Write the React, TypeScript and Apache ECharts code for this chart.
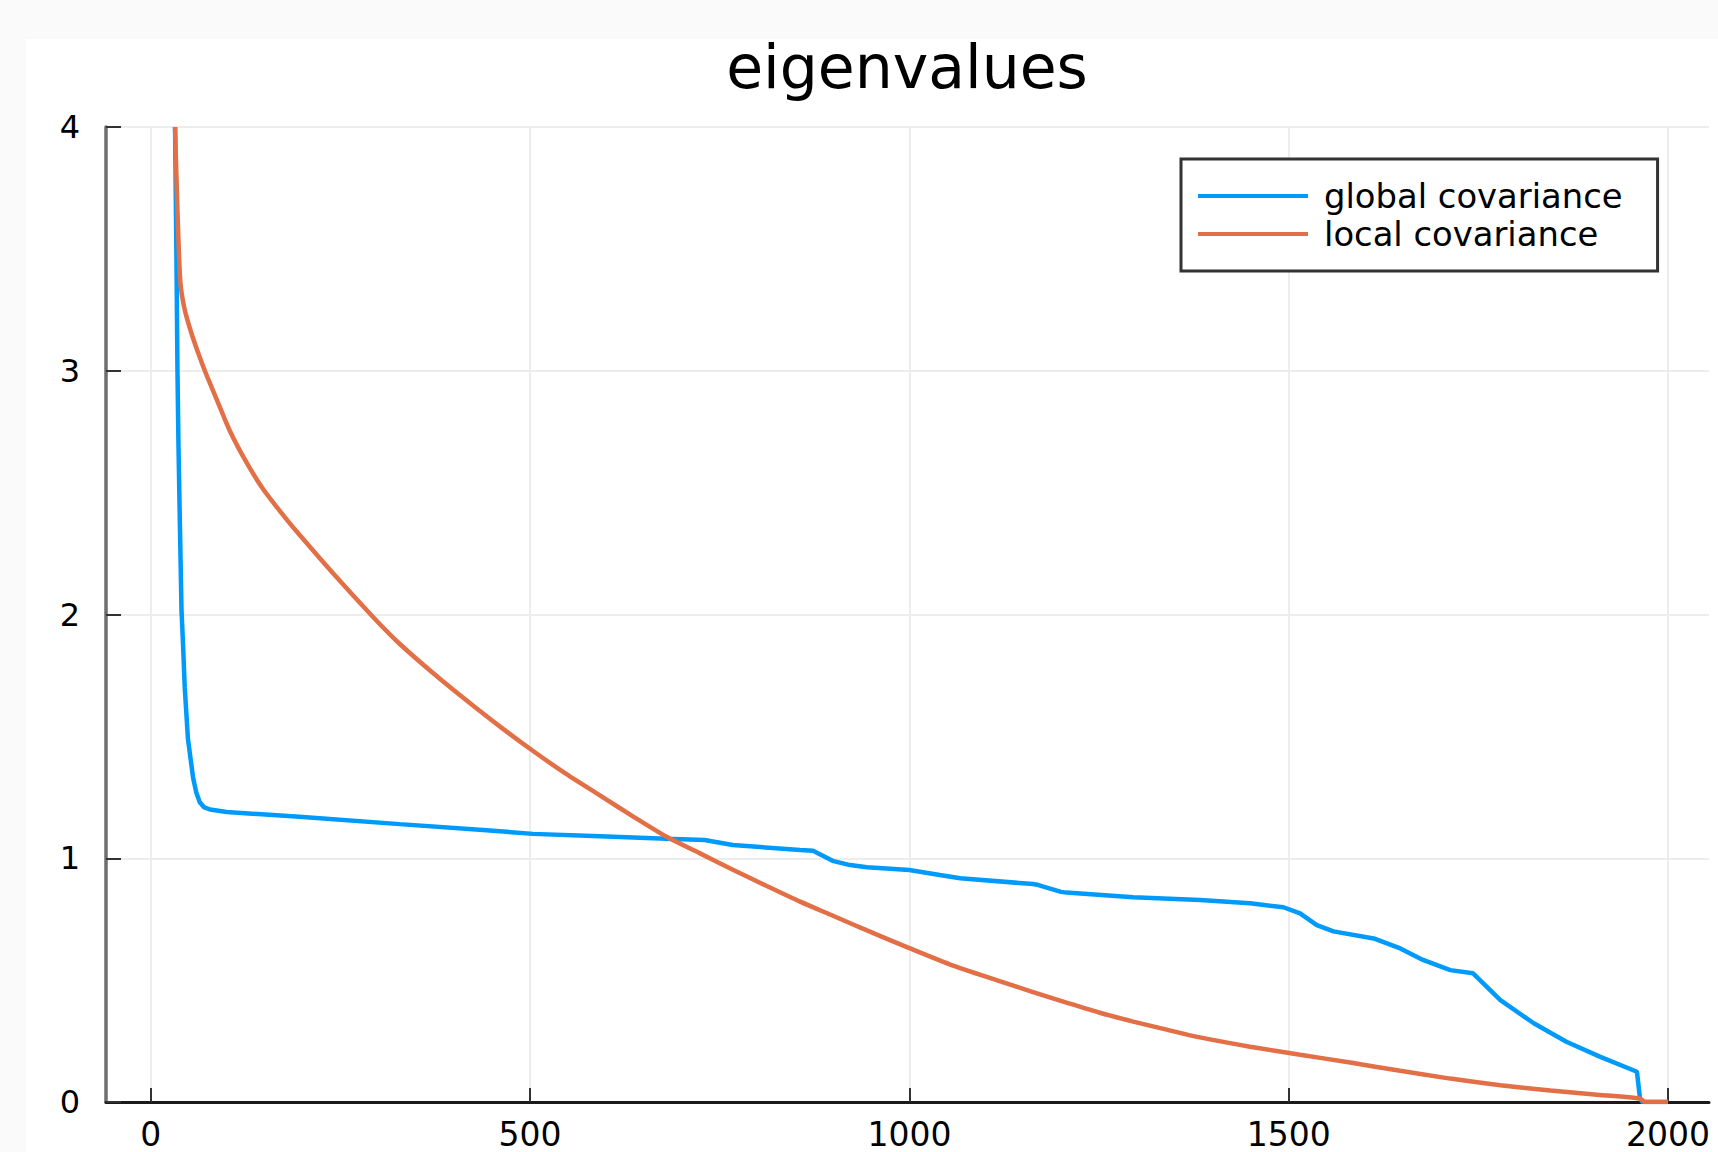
import React, { useEffect, useRef } from "react";
import * as echarts from "echarts";

const TITLE = "eigenvalues";
const SERIES_NAMES = ["global covariance", "local covariance"];
const SERIES_COLORS = ["#009AFA", "#E26F46"];
const X_TICKS = [0, 500, 1000, 1500, 2000];
const Y_TICKS = [0, 1, 2, 3, 4];

const globalX = [32, 33.8, 35.2, 36.5, 38, 40.5, 42.5, 44.8, 49, 55.8, 60, 64.6, 70, 78, 100, 196, 328, 438, 504, 592, 680, 730, 767, 856, 873, 900, 922, 944, 1000, 1040, 1067, 1163, 1170, 1200, 1207, 1295, 1383, 1449, 1493, 1515, 1537, 1559, 1612, 1647, 1677, 1713, 1743, 1779, 1823, 1866, 1910, 1959, 1963, 1966, 2000];
const globalY = [4.0, 3.48, 3.0, 2.7, 2.44, 2.02, 1.88, 1.7, 1.49, 1.33, 1.27, 1.23, 1.21, 1.2, 1.19, 1.17, 1.14, 1.116, 1.1, 1.09, 1.08, 1.075, 1.054, 1.034, 1.031, 0.988, 0.972, 0.963, 0.952, 0.931, 0.918, 0.894, 0.89, 0.862, 0.859, 0.84, 0.829, 0.815, 0.799, 0.774, 0.726, 0.7, 0.671, 0.63, 0.583, 0.541, 0.528, 0.418, 0.323, 0.247, 0.186, 0.124, 0.015, 0, 0];

const localX = [32, 34, 36, 39.1, 44.8, 53.6, 64.6, 72.5, 86.6, 104, 126, 148, 179, 196, 240, 293, 328, 372, 416, 460, 504, 548, 592, 636, 680, 724, 768, 812, 856, 900, 944, 1000, 1053, 1119, 1163, 1207, 1251, 1295, 1339, 1383, 1449, 1515, 1581, 1647, 1713, 1779, 1845, 1910, 1963, 1970, 2000];
const localY = [4.0, 3.78, 3.58, 3.36, 3.25, 3.154, 3.055, 2.99, 2.885, 2.755, 2.625, 2.515, 2.39, 2.327, 2.17, 1.99, 1.88, 1.76, 1.648, 1.541, 1.44, 1.345, 1.258, 1.171, 1.088, 1.02, 0.952, 0.886, 0.822, 0.763, 0.704, 0.631, 0.565, 0.496, 0.451, 0.408, 0.366, 0.33, 0.297, 0.265, 0.227, 0.194, 0.162, 0.128, 0.096, 0.069, 0.047, 0.029, 0.014, 0, 0];

const FONT = "DejaVu Sans";

function zip(xs: number[], ys: number[]) {
  return xs.map((x, i) => [x, ys[i]]);
}

export default function App() {
  const ref = useRef<HTMLDivElement>(null);
  useEffect(() => {
    if (!ref.current) return;
    const chart = echarts.init(ref.current, undefined, { renderer: "svg" });
    chart.setOption({
      animation: false,
      backgroundColor: "#fafafa",
      textStyle: { fontFamily: FONT },
      graphic: [
        {
          type: "rect",
          z: -1,
          silent: true,
          shape: { x: 26, y: 39, width: 1692, height: 1113 },
          style: { fill: "#ffffff" },
        },
      ],
      title: {
        text: TITLE,
        left: 907,
        top: 37,
        textAlign: "center",
        padding: 0,
        textStyle: { fontFamily: FONT, fontSize: 60, fontWeight: "normal", color: "#000" },
      },
      legend: {
        data: SERIES_NAMES,
        orient: "vertical",
        left: 1181,
        top: 159,
        icon: "rect",
        itemWidth: 110,
        itemHeight: 4,
        itemGap: 0,
        padding: [18, 35, 18, 17],
        borderColor: "#333",
        borderWidth: 3,
        backgroundColor: "#fff",
        selectedMode: false,
        textStyle: { fontFamily: FONT, fontSize: 33.8, color: "#000", lineHeight: 38, padding: [0, 0, 0, 11] },
      },
      grid: { left: 106, top: 127, right: 9, bottom: 50 },
      xAxis: {
        type: "value",
        min: -59,
        max: 2054,
        axisLine: { show: true, onZero: false, lineStyle: { color: "#1a1a1a", width: 3 } },
        axisTick: { show: true, inside: true, length: 14, customValues: X_TICKS, lineStyle: { color: "#333", width: 2 } },
        axisLabel: {
          customValues: X_TICKS,
          margin: 18,
          fontFamily: FONT,
          fontSize: 33,
          lineHeight: 28,
          color: "#000",
          formatter: (v: number) => String(v),
        },
        splitLine: { show: true, lineStyle: { color: "#ededed", width: 2 } },
      },
      yAxis: {
        type: "value",
        min: 0,
        max: 4,
        interval: 1,
        axisLine: { show: true, onZero: false, lineStyle: { color: "#6e6e6e", width: 3.5 } },
        axisTick: { show: true, inside: true, length: 15, customValues: Y_TICKS, lineStyle: { color: "#333", width: 2 } },
        axisLabel: {
          customValues: Y_TICKS,
          margin: 26,
          fontFamily: FONT,
          fontSize: 32,
          color: "#000",
          formatter: (v: number) => String(v),
        },
        splitLine: { show: true, lineStyle: { color: "#ededed", width: 2 } },
      },
      series: [
        {
          name: SERIES_NAMES[0],
          type: "line",
          data: zip(globalX, globalY),
          symbol: "none",
          showSymbol: false,
          color: SERIES_COLORS[0],
          lineStyle: { color: SERIES_COLORS[0], width: 4.5 },
          itemStyle: { color: SERIES_COLORS[0] },
          z: 3,
        },
        {
          name: SERIES_NAMES[1],
          type: "line",
          data: zip(localX, localY),
          symbol: "none",
          showSymbol: false,
          smooth: 0.25,
          color: SERIES_COLORS[1],
          lineStyle: { color: SERIES_COLORS[1], width: 4.5 },
          itemStyle: { color: SERIES_COLORS[1] },
          z: 4,
        },
      ],
    });
    return () => chart.dispose();
  }, []);
  return (
    <div
      ref={ref}
      style={{ position: "absolute", left: 0, top: 0, width: 1718, height: 1152 }}
    />
  );
}
